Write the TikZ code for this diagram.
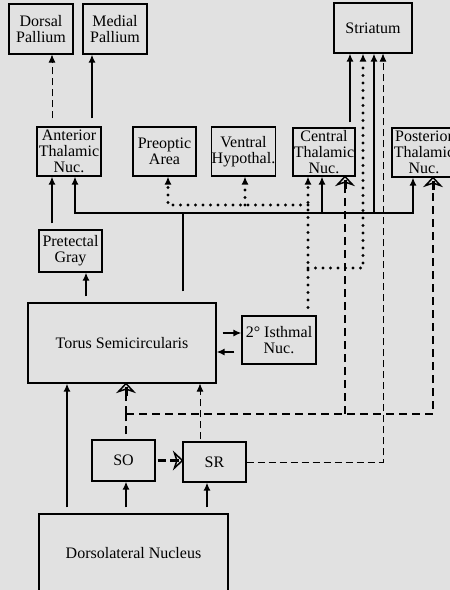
\documentclass[tikz,border=0pt]{standalone}
\usepackage{fontspec}
\setmainfont{Liberation Serif}
\usetikzlibrary{arrows.meta}
\definecolor{paper}{HTML}{E1E1E1}

\begin{document}
\begin{tikzpicture}[x=1pt,y=-1pt,
  region/.style={draw,line width=1.1pt,rectangle,align=center,inner sep=0pt,
    font=\fontsize{16}{16}\selectfont},
  gap/.style={shorten <=#1},gap/.default=6pt,
  tip/.style={-{Latex[length=8pt,width=7pt]}},
  trunk/.style={line width=1.8pt},
  axon/.style={trunk,tip},
  faint/.style={line width=0.8pt,dash pattern=on 7pt off 4pt},
  heavy/.style={line width=2.8pt,dash pattern=on 8pt off 5pt,shorten >=7pt},
  dotline/.style={line width=3.4pt,line cap=round,dash pattern=on 0pt off 7.5pt},
  pics/hollowhead/.style={code={
    \draw[line width=3pt] (0,3) -- (0,12);
    \draw[line width=1.5pt,line join=miter] (0,0) -- (7.5,8) -- (0,5.5) -- (-7.5,8) -- cycle;
  }}]

  \fill[paper] (0,0) rectangle (450,590);
  \useasboundingbox (0,0) rectangle (450,590);
  \clip (0,0) rectangle (450,590);

  \node[region,minimum width=64pt,minimum height=50pt] (dpal) at (41,29) {Dorsal\\Pallium};
  \node[region,minimum width=64pt,minimum height=50pt] (mpal) at (115,29) {Medial\\Pallium};
  \node[region,minimum width=78pt,minimum height=50pt] (str) at (373,28) {Striatum};
  \node[region,minimum width=64pt,minimum height=49pt] (atn) at (69,151.5) {Anterior\\Thalamic\\Nuc.};
  \node[region,minimum width=63pt,minimum height=49pt] (poa) at (164.5,151.5) {Preoptic\\Area};
  \node[region,minimum width=63pt,minimum height=49pt] (vhyp) at (243.5,151.5) {Ventral\\Hypothal.};
  \node[region,minimum width=62pt,minimum height=48pt] (ctn) at (324,152) {Central\\Thalamic\\Nuc.};
  \node[region,minimum width=64pt,minimum height=49pt] (ptn) at (424,152.5) {Posterior\\Thalamic\\Nuc.};
  \node[region,minimum width=63pt,minimum height=42pt] (ptg) at (70.5,251) {Pretectal\\Gray};
  \node[region,minimum width=188pt,minimum height=80pt] (ts) at (122,343) {Torus Semicircularis};
  \node[region,minimum width=74pt,minimum height=48pt] (isth) at (279,340) {2° Isthmal\\Nuc.};
  \node[region,minimum width=63pt,minimum height=41pt] (so) at (123.5,460.5) {SO};
  \node[region,minimum width=63pt,minimum height=40pt] (sr) at (214.5,462) {SR};
  \node[region,minimum width=189pt,minimum height=78pt] (dl) at (133.5,553) {Dorsolateral Nucleus};

  \coordinate (tsx) at (183,213);
  \coordinate (dj1) at (308,205);
  \coordinate (dj2) at (308,268);
  \coordinate (sj) at (126,414);

  % thalamus to telencephalon
  \draw[faint,tip,gap=8pt] ([xshift=-17pt]atn.north) -- ([xshift=-17pt]atn.north |- dpal.south);
  \draw[axon,gap=8pt] ([xshift=23pt]atn.north) -- ([xshift=23pt]atn.north |- mpal.south);
  \draw[axon,gap=5pt] ([xshift=26pt]ctn.north) -- ([xshift=26pt]ctn.north |- str.south);
  \draw[axon,gap] ([xshift=-18.5pt]ptg.north) -- ([xshift=-18.5pt]ptg.north |- atn.south);
  \draw[axon,gap] ([xshift=-36pt]ts.north) -- ([xshift=-36pt]ts.north |- ptg.south);

  % torus fan-out
  \draw[trunk,gap=11pt] (ts.north -| tsx) -- (tsx);
  \draw[axon] (tsx) -| ([xshift=6pt]atn.south);
  \draw[axon] (tsx) -| ([xshift=-11pt]ptn.south);
  \draw[axon] ([xshift=-2pt]ctn.south |- tsx) -- ([xshift=-2pt]ctn.south);
  \draw[axon] ([xshift=1pt]str.south |- tsx) -- ([xshift=1pt]str.south);
  \draw[axon,gap] ([yshift=10pt]ts.east) -- ([yshift=10pt]ts.east -| isth.west);
  \draw[axon,gap=7pt] ([yshift=-12pt]isth.west) -- ([yshift=-12pt]isth.west -| ts.east);

  % isthmal outputs
  \draw[dotline,tip,gap=8pt] ([xshift=29pt]isth.north) -- ([xshift=-16pt]ctn.south);
  \draw[dotline,tip] (dj1) -| ([xshift=3.5pt]poa.south);
  \draw[dotline,tip] ([xshift=1.5pt]vhyp.south |- dj1) -- ([xshift=1.5pt]vhyp.south);
  \draw[dotline,tip] (dj2) -| ([xshift=-10pt]str.south);

  % SO and SR
  \draw[heavy,gap=5pt,shorten >=0pt] ([xshift=2.5pt]so.north) -- (sj);
  \draw[heavy] (sj) -- (sj |- ts.south);
  \pic at (sj |- ts.south) {hollowhead};
  \draw[heavy] (sj) -| ([xshift=9pt]ptn.south);
  \pic at ([xshift=9pt]ptn.south) {hollowhead};
  \draw[heavy] ([xshift=21pt]ctn.south |- sj) -- ([xshift=21pt]ctn.south);
  \pic at ([xshift=21pt]ctn.south) {hollowhead};
  \draw[heavy,gap=2pt] (so.east) -- (so.east -| sr.west);
  \pic[rotate=-90] at (so.east -| sr.west) {hollowhead};
  \draw[faint,tip,gap=2pt] ([xshift=-14.5pt]sr.north) -- ([xshift=-14.5pt]sr.north |- ts.south);
  \draw[faint,tip] (sr.east) -| ([xshift=10pt]str.south);

  \draw[axon,gap] ([xshift=-66.5pt]dl.north) -- ([xshift=-66.5pt]dl.north |- ts.south);
  \draw[axon,gap] ([xshift=-7.5pt]dl.north) -- ([xshift=-7.5pt]dl.north |- so.south);
  \draw[axon,gap] ([xshift=73.5pt]dl.north) -- ([xshift=73.5pt]dl.north |- sr.south);
\end{tikzpicture}
\end{document}
